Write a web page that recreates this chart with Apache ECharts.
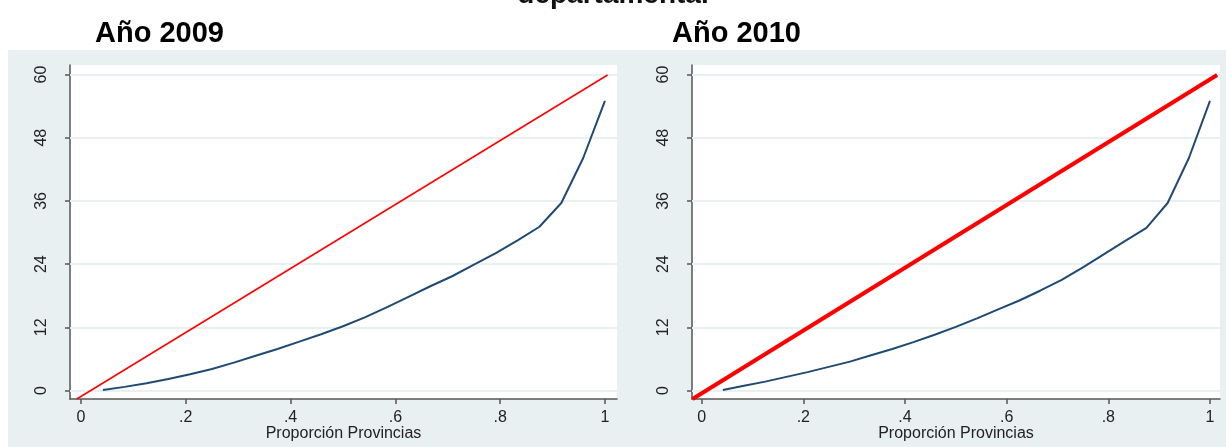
<!DOCTYPE html>
<html>
<head>
<meta charset="utf-8">
<script src="https://cdn.jsdelivr.net/npm/echarts@6/dist/echarts.min.js"></script>
<style>
html,body{margin:0;padding:0;background:#fff;}
#chart{width:1226px;height:447px;}
</style>
</head>
<body>
<div id="chart"></div>
<script>
// ---- data ----
const panelTitles = ['Año 2009', 'Año 2010'];
const xAxisName = 'Proporción Provincias';
const xTicks = [0, 0.2, 0.4, 0.6, 0.8, 1];
const yTicks = [0, 12, 24, 36, 48, 60];
// cumulative share of provinces (k/24)
const provShare = [0.0417,0.0833,0.125,0.1667,0.2083,0.25,0.2917,0.3333,0.375,0.4167,0.4583,0.5,
                   0.5417,0.5833,0.625,0.6667,0.7083,0.75,0.7917,0.8333,0.875,0.9167,0.9583,1.0];
const lorenz2009 = [0.1,0.7,1.4,2.2,3.1,4.1,5.3,6.6,7.9,9.3,10.7,12.2,
                    13.9,15.8,17.8,19.8,21.7,23.9,26.1,28.5,31.1,35.6,44.1,55.0];
const lorenz2010 = [0.1,0.9,1.7,2.6,3.5,4.5,5.5,6.7,7.9,9.2,10.6,12.1,
                    13.7,15.4,17.1,19.0,21.0,23.4,25.9,28.4,30.9,35.6,44.1,55.0];
const equality2009 = [[-0.008,-1.6],[1.005,59.9]];
const equality2010 = [[-0.018,-1.6],[1.014,59.9]];

const chart = echarts.init(document.getElementById('chart'), null, {renderer:'canvas'});
const FONT = 'Liberation Sans, Arial, sans-serif';
const axisColor = '#555';
const gridLineColor = '#e9f0f1';

function xAx(idx, min, max){
  return {
    type:'value', gridIndex:idx, min:min, max:max,
    name:xAxisName, nameLocation:'middle', nameGap:27, nameMoveOverlap:false,
    nameTextStyle:{fontFamily:FONT, fontSize:16, color:'#222'},
    axisLine:{show:true, onZero:false, lineStyle:{color:axisColor, width:1.5}},
    axisTick:{show:true, length:5, customValues:xTicks, lineStyle:{color:axisColor, width:1.5}},
    axisLabel:{customValues:xTicks, margin:11, fontFamily:FONT, fontSize:16, color:'#222',
      formatter:v => (v===0?'0':(v===1?'1':String(v.toFixed(1)).replace(/^0/,'')))},
    splitLine:{show:false}
  };
}
function yAx(idx){
  return {
    type:'value', gridIndex:idx, min:-1.6, max:61.8,
    axisLine:{show:true, onZero:false, lineStyle:{color:axisColor, width:1.5}},
    axisTick:{show:true, length:5, customValues:yTicks, lineStyle:{color:axisColor, width:1.5}},
    axisLabel:{customValues:yTicks, rotate:90, margin:20, fontFamily:FONT, fontSize:16, color:'#222'},
    splitLine:{show:false}
  };
}
function pairs(xs, ys){ return xs.map((x,i)=>[x, ys[i]]); }
function gridMark(){
  return {silent:true, symbol:'none', z:1, label:{show:false},
    lineStyle:{color:gridLineColor, width:2, type:'solid'},
    data: yTicks.map(v=>({yAxis:v}))};
}

const option = {
  backgroundColor:'#ffffff',
  animation:false,
  title:[
    {text:'departamental', left:'center', top:-24, textStyle:{fontFamily:FONT, fontSize:28, fontWeight:'bold', color:'#111'}},
    {text:panelTitles[0], left:90, top:14, textStyle:{fontFamily:FONT, fontSize:29, fontWeight:'bold', color:'#000'}},
    {text:panelTitles[1], left:667, top:14, textStyle:{fontFamily:FONT, fontSize:29, fontWeight:'bold', color:'#000'}}
  ],
  graphic:[
    {type:'rect', z:-10, shape:{x:8, y:50, width:1218, height:397}, style:{fill:'#e9f0f2'}}
  ],
  grid:[
    {left:70, top:65, width:547, height:334, show:true, backgroundColor:'#fff', borderWidth:0, outerBoundsMode:'none', containLabel:false},
    {left:692, top:65, width:528, height:334, show:true, backgroundColor:'#fff', borderWidth:0, outerBoundsMode:'none', containLabel:false}
  ],
  xAxis:[ xAx(0, -0.021, 1.023), xAx(1, -0.019, 1.0197) ],
  yAxis:[ yAx(0), yAx(1) ],
  series:[
    {type:'line', xAxisIndex:0, yAxisIndex:0, data:[], z:1, markLine:gridMark()},
    {type:'line', xAxisIndex:1, yAxisIndex:1, data:[], z:1, markLine:gridMark()},
    {type:'line', xAxisIndex:0, yAxisIndex:0, data:pairs(provShare, lorenz2009), symbol:'none',
      lineStyle:{color:'#1f4a73', width:2}, z:6},
    {type:'line', xAxisIndex:0, yAxisIndex:0, data:equality2009, symbol:'none',
      lineStyle:{color:'#ff0000', width:1.5}, z:7},
    {type:'line', xAxisIndex:1, yAxisIndex:1, data:pairs(provShare, lorenz2010), symbol:'none',
      lineStyle:{color:'#1f4a73', width:2}, z:6},
    {type:'line', xAxisIndex:1, yAxisIndex:1, data:equality2010, symbol:'none',
      lineStyle:{color:'#ff0000', width:4}, z:7}
  ]
};
chart.setOption(option);
</script>
</body>
</html>
